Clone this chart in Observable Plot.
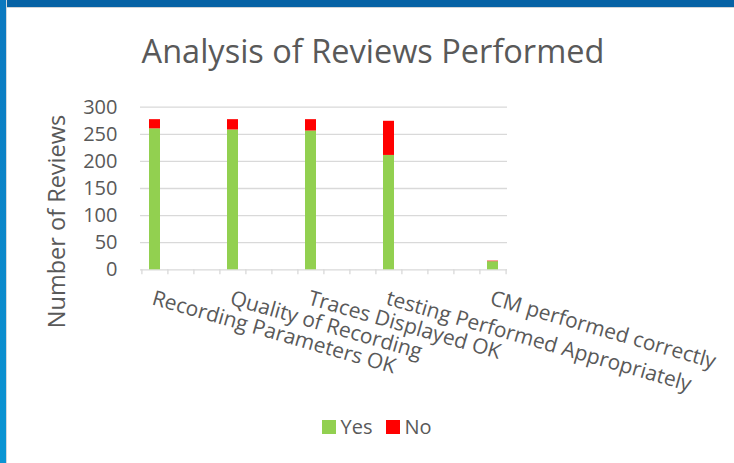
<!DOCTYPE html>
<html><head><meta charset="utf-8">
<script src="https://cdn.jsdelivr.net/npm/d3@7"></script>
<script src="https://cdn.jsdelivr.net/npm/@observablehq/plot@0.6"></script>
<style>
body{margin:0;background:#fff;}
#wrap{position:relative;width:734px;height:463px;overflow:hidden;background:#fff;font-family:"Open Sans",sans-serif;color:#595959;}
#topbar{position:absolute;left:0;top:0;width:734px;height:7px;background:#0662a5;border-bottom:1px solid #d0d4d8;}
#leftbar{position:absolute;left:0;top:0;width:6px;height:463px;background:linear-gradient(#0b78bf,#0a95d4);border-right:1px solid #d0d8e0;}
#title{position:absolute;left:12px;width:722px;top:29px;text-align:center;font-size:32.5px;line-height:44px;color:#595959;white-space:nowrap;}
#chart{position:absolute;left:0;top:80px;}
#legend{position:absolute;top:413px;left:20px;width:714px;display:flex;justify-content:center;align-items:center;font-size:20px;color:#595959;}
#legend span.sw{display:inline-block;width:14px;height:14px;margin-right:4px;}
#legend span.item{display:inline-flex;align-items:center;margin:0 7px;}
</style></head>
<body><div id="wrap">
<div id="topbar"></div><div id="leftbar"></div>
<div id="title">Analysis of Reviews Performed</div>
<div id="chart"></div>
<div id="legend"></div>
</div>
<script>
const categories = ["Recording Parameters OK","","","Quality of Recording","","","Traces Displayed OK","","","testing Performed Appropriately","","","","CM performed correctly"];
const yesValues = [260,null,null,258,null,null,256,null,null,211,null,null,null,15];
const noValues  = [17,null,null,19,null,null,21,null,null,63,null,null,null,1];
const seriesNames = ["Yes","No"];
const seriesColors = ["#92d050","#ff0000"];
const yTicks = [0,50,100,150,200,250,300];
const yLabel = "Number of Reviews";

const rows = [];
categories.forEach((c,i)=>{
  if (yesValues[i] != null) rows.push({slot:i, series:"Yes", value:yesValues[i]});
  if (noValues[i] != null) rows.push({slot:i, series:"No", value:noValues[i]});
});
const labelRows = categories.map((name,i)=>({slot:i,name})).filter(d=>d.name);
const slots = d3.range(categories.length);
const W=734, H=320, mL=140, mR=227, mT=26.7, mB=130.7;
const step = (W-mL-mR)/categories.length;

const chart = Plot.plot({
  width:W, height:H, marginTop:mT, marginBottom:mB, marginLeft:mL, marginRight:mR,
  style:{fontFamily:"'Open Sans',sans-serif", fontSize:"20px", color:"#595959", background:"transparent", overflow:"visible"},
  x:{type:"band", domain:slots, paddingInner:0.58, paddingOuter:0.29, axis:null},
  y:{domain:[0,300], axis:null},
  color:{domain:seriesNames, range:seriesColors},
  marks:[
    Plot.ruleY(yTicks, {y:d=>d, stroke:"#d9d9d9", strokeWidth:1.3}),
    Plot.ruleX(slots, {x:d=>d, y1:0, y2:0, insetBottom:-5, dx:-step/2, stroke:"#d9d9d9", strokeWidth:1.3}),
    Plot.ruleX([slots[slots.length-1]], {x:d=>d, y1:0, y2:0, insetBottom:-5, dx:step/2, stroke:"#d9d9d9", strokeWidth:1.3}),
    Plot.barY(rows, Plot.stackY({x:"slot", y:"value", fill:"series"})),
    Plot.text(yTicks, {y:d=>d, frameAnchor:"left", textAnchor:"end", dx:-23, text:d=>String(d), fill:"#595959", fontSize:20}),
    Plot.text(labelRows, {x:"slot", frameAnchor:"bottom", text:"name", rotate:16, textAnchor:"start", lineAnchor:"top", dy:20, fill:"#595959", fontSize:21}),
    Plot.text([yLabel], {frameAnchor:"left", text:d=>d, rotate:-90, textAnchor:"middle", dx:-83, dy:33, fill:"#595959", fontSize:23.5})
  ]
});
document.getElementById("chart").appendChild(chart);

const legend = document.getElementById("legend");
seriesNames.forEach((s,i)=>{
  const it = document.createElement("span"); it.className="item";
  const sw = document.createElement("span"); sw.className="sw"; sw.style.background=seriesColors[i];
  it.appendChild(sw); it.appendChild(document.createTextNode(s));
  legend.appendChild(it);
});
</script>
</body></html>
